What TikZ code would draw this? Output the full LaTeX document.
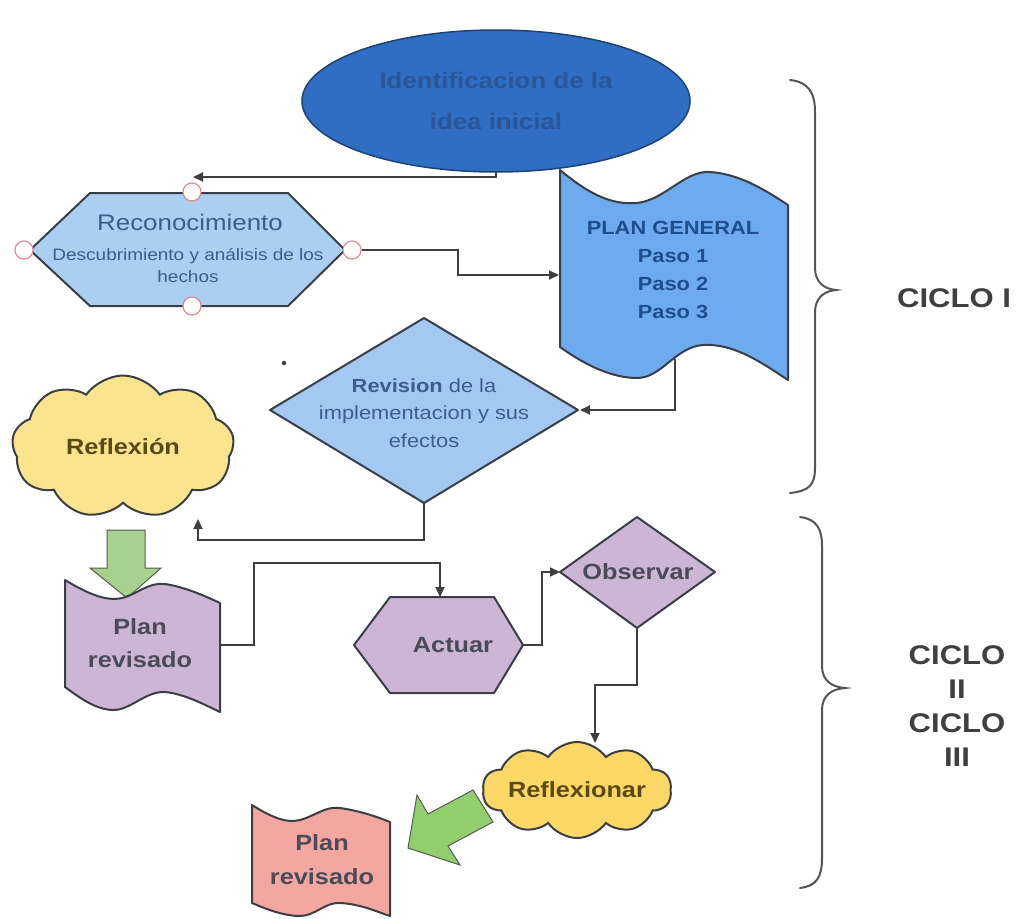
\documentclass[tikz,border=0pt]{standalone}
\usepackage{fontspec}
\setmainfont{Liberation Sans}[FakeStretch=1.15]
\usetikzlibrary{shapes.geometric,shapes.symbols,arrows.meta}
\definecolor{linec}{HTML}{3F3F3F}
\definecolor{shapeb}{HTML}{3A3F47}
\definecolor{ellfill}{HTML}{2F6EC3}
\definecolor{ellb}{HTML}{1F4275}
\definecolor{elltext}{HTML}{2A5598}
\definecolor{recfill}{HTML}{AACFF0}
\definecolor{rectext}{HTML}{3B5F8A}
\definecolor{planfill}{HTML}{6EAAEE}
\definecolor{plantext}{HTML}{1F4E8C}
\definecolor{revfill}{HTML}{A3C8F2}
\definecolor{cloudA}{HTML}{FCE38E}
\definecolor{cloudB}{HTML}{FDD866}
\definecolor{cloudtext}{HTML}{5A4A18}
\definecolor{purp}{HTML}{CDB5D6}
\definecolor{purptext}{HTML}{4A4A58}
\definecolor{pinkf}{HTML}{F4A7A0}
\definecolor{greenA}{HTML}{A9D18E}
\definecolor{greenB}{HTML}{92CF6C}
\definecolor{circb}{HTML}{E38A92}
\definecolor{bracec}{HTML}{555555}
\definecolor{ciclotext}{HTML}{3F3F3F}
\newcommand\myfs[2]{\fontsize{#1}{#2}\selectfont}
\begin{document}
\begin{tikzpicture}[x=1pt,y=-1pt,
  line/.style={draw=linec, line width=1.9pt},
  arr/.style={line, -{Triangle[length=10pt,width=9pt]}},
  shp/.style={draw=shapeb, line width=2pt, line join=round},
  port/.style={circle, draw=circb, fill=white, line width=1.2pt, minimum size=18pt, inner sep=0pt},
  lbl/.style={align=center, inner sep=0pt},
  bracestyle/.style={draw=bracec, line width=2pt, line cap=round}]
\useasboundingbox (0,0) rectangle (1019,918);

% ---- Identificacion ellipse
\node[ellipse, fill=ellfill, draw=ellb, line width=1.5pt, minimum width=388pt, minimum height=142pt,
  text=elltext, align=center, font=\bfseries\myfs{22.5}{41}] (idea) at (496,101) {Identificacion de la\\idea inicial};

% ---- Reconocimiento hexagon
\draw[shp, fill=recfill] (90,193) -- (288,193) -- (345,250) -- (288,306) -- (90,306) -- (30,250) -- cycle;
\node[lbl, text=rectext, font=\myfs{22.5}{26}] (rec) at (190,222) {Reconocimiento};
\node[lbl, text=rectext, font=\myfs{16.5}{22}] (recd) at (188,266) {Descubrimiento y análisis de los\\hechos};
\node[port] (cT) at (192,192) {};
\node[port] (cB) at (192,306) {};
\node[port] (cL) at (24,250) {};
\node[port] (cR) at (352,250) {};

% ---- PLAN GENERAL tape
\draw[shp, fill=planfill] (560,170) .. controls (590,195) and (612,205) .. (637,203)
  .. controls (665,200) and (685,170) .. (710,172) .. controls (740,174) and (765,190) .. (788,205)
  -- (788,380) .. controls (765,365) and (735,343) .. (703,345)
  .. controls (675,347) and (662,378) .. (637,378) .. controls (612,378) and (585,365) .. (560,347) -- cycle;
\node[lbl, text=plantext, font=\bfseries\myfs{19}{28}] (plan) at (673,270) {PLAN GENERAL\\Paso 1\\Paso 2\\Paso 3};
\coordinate (planL) at (559,275);
\coordinate (planB) at (675,359);

% ---- Revision diamond
\draw[shp, fill=revfill] (424,318) -- (578,410) -- (424,503) -- (270,410) -- cycle;
\node[lbl, text=rectext, font=\myfs{19}{27.5}] (rev) at (424,413) {\textbf{Revision} de la\\implementacion y sus\\efectos};
\coordinate (revR) at (580,410);
\coordinate (revB) at (424,503);
\fill[linec] (284,363) circle (2.2pt);

% ---- Reflexion cloud
\node[cloud, cloud puffs=9, cloud puff arc=110, cloud ignores aspect, minimum width=222pt, minimum height=143pt,
  fill=cloudA, draw=shapeb, line width=2pt, text=cloudtext, font=\bfseries\myfs{22}{26}] (refl) at (123,447) {Reflexión};
\coordinate (reflIn) at (198,519);

% ---- green down arrow
\draw[draw=gray!70!black, line width=1pt, fill=greenA] (107,530) -- (145,530) -- (145,568) -- (161,568) -- (127,598) -- (90,568) -- (107,568) -- cycle;

% ---- Plan revisado (purple)
\draw[shp, fill=purp] (65,580) .. controls (85,592) and (105,602) .. (122,598)
  .. controls (138,594) and (148,582) .. (165,584) .. controls (185,587) and (205,596) .. (220,603)
  -- (220,712) .. controls (205,705) and (185,694) .. (165,692)
  .. controls (145,691) and (130,711) .. (112,710) .. controls (95,709) and (80,698) .. (65,687) -- cycle;
\node[lbl, text=purptext, font=\bfseries\myfs{22}{33}] (prev) at (140,643) {Plan\\revisado};
\coordinate (prevR) at (220,645);

% ---- Actuar hexagon
\draw[shp, fill=purp] (390,597) -- (494,597) -- (523,645) -- (494,693) -- (390,693) -- (354,645) -- cycle;
\node[lbl, text=purptext, font=\bfseries\myfs{22}{26}] (act) at (453,645) {Actuar};
\coordinate (actT) at (440,597);
\coordinate (actR) at (523,645);

% ---- Observar diamond
\draw[shp, fill=purp] (637,517) -- (715,572) -- (637,628) -- (560,572) -- cycle;
\node[lbl, text=purptext, font=\bfseries\myfs{22}{26}] (obs) at (638,572) {Observar};
\coordinate (obsL) at (560,572);
\coordinate (obsB) at (637,628);

% ---- Reflexionar cloud
\node[cloud, cloud puffs=10, cloud puff arc=110, cloud ignores aspect, minimum width=170pt, minimum height=96pt,
  fill=cloudB, draw=shapeb, line width=2pt, text=cloudtext, font=\bfseries\myfs{22}{26}, inner sep=0pt] (refx) at (577,790) {Reflexionar};
\coordinate (refxT) at (595,743);

% ---- green diagonal arrow
\draw[draw=gray!70!black, line width=1pt, fill=greenB] (473,790) -- (428,814) -- (417,795) -- (408,848) -- (460,865) -- (448,846) -- (493,822) -- cycle;

% ---- Plan revisado (pink)
\draw[shp, fill=pinkf] (252,805) .. controls (268,815) and (285,824) .. (300,820)
  .. controls (315,816) and (325,806) .. (340,808) .. controls (360,811) and (375,816) .. (390,822)
  -- (390,916) .. controls (375,911) and (360,904) .. (340,903)
  .. controls (325,902) and (315,916) .. (300,916) .. controls (285,916) and (268,910) .. (252,903) -- cycle;
\node[lbl, text=purptext, font=\bfseries\myfs{22}{34}] (prev2) at (322,860) {Plan\\revisado};

% ---- connectors
\coordinate (recIn) at (193,177);
\draw[arr] (idea.south) |- (recIn);
\draw[arr] (cR.east) -- (458,250) |- (planL);
\draw[arr] (planB) |- (revR);
\draw[arr] (revB) -- (424,540) -| (reflIn);
\draw[arr] (prevR) -- (254,645) -- (254,563) -| (actT);
\draw[arr] (actR) -- (542,645) |- (obsL);
\draw[arr] (obsB) -- (637,685) -| (refxT);

% ---- braces
\draw[bracestyle] (790,80) .. controls (808,82) and (815,92) .. (815,112) -- (815,268)
  .. controls (815,282) and (824,289) .. (836,290) .. controls (824,291) and (815,298) .. (815,312)
  -- (815,468) .. controls (815,486) and (808,491) .. (790,493);
\draw[bracestyle] (800,517) .. controls (816,519) and (822,528) .. (822,546) -- (822,666)
  .. controls (822,680) and (831,687) .. (845,688) .. controls (831,689) and (822,696) .. (822,710)
  -- (822,858) .. controls (822,878) and (816,886) .. (800,888);
\node[lbl, text=ciclotext, font=\bfseries\myfs{27}{34}] (c1) at (954,298) {CICLO I};
\node[lbl, text=ciclotext, font=\bfseries\myfs{27}{34}] (c2) at (957,706) {CICLO\\II\\CICLO\\III};
\end{tikzpicture}
\end{document}
